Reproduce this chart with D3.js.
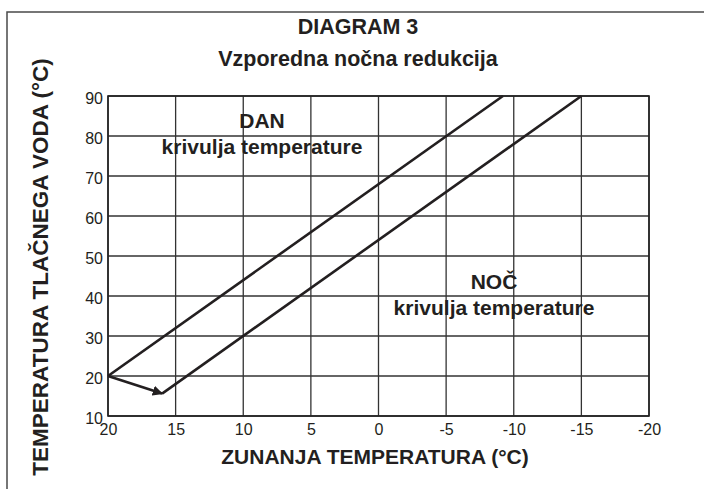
<!DOCTYPE html>
<html>
<head>
<meta charset="utf-8">
<script src="https://cdn.jsdelivr.net/npm/d3@7"></script>
<style>
  html, body { margin: 0; padding: 0; background: #fff; }
  svg { display: block; }
  text { font-family: "Liberation Sans", Arial, Helvetica, sans-serif; fill: #231f20; }
</style>
</head>
<body>
<svg id="chart" width="704" height="489"></svg>
<script>
// Outdoor temperature ticks (°C), reversed axis: warm on the left
const xTicks = [20, 15, 10, 5, 0, -5, -10, -15, -20];
// Flow water temperature ticks (°C)
const yTicks = [10, 20, 30, 40, 50, 60, 70, 80, 90];

// Day heating curve: outdoor temp -> flow temp
const dayOutdoor = [20, -9.2];
const dayFlow = [20, 90];

// Night heating curve, parallel to the day curve
const nightOutdoor = [16, -15];
const nightFlow = [15.6, 90];

// Reduction step from the day curve start to the night curve start
const shiftOutdoor = [20, 16];
const shiftFlow = [20, 15.6];

const ink = "#231f20";
const svg = d3.select("#chart");

// outer frame (runs off the right and bottom edge)
svg.append("rect")
  .attr("x", 7).attr("y", 12).attr("width", 760).attr("height", 520)
  .attr("fill", "none").attr("stroke", "#4a4a4a").attr("stroke-width", 1.5);

const x = d3.scaleLinear().domain([20, -20]).range([108, 649]);
const y = d3.scaleLinear().domain([10, 90]).range([416, 96]);

// grid
const g = svg.append("g");
g.selectAll("line.vx").data(xTicks).join("line")
  .attr("x1", d => x(d)).attr("x2", d => x(d))
  .attr("y1", y(10)).attr("y2", y(90))
  .attr("stroke", "#333").attr("stroke-width", 1.3);
g.selectAll("line.hy").data(yTicks).join("line")
  .attr("x1", x(20)).attr("x2", x(-20))
  .attr("y1", d => y(d)).attr("y2", d => y(d))
  .attr("stroke", "#333").attr("stroke-width", 1.3);
g.append("rect")
  .attr("x", x(20)).attr("y", y(90))
  .attr("width", x(-20) - x(20)).attr("height", y(10) - y(90))
  .attr("fill", "none").attr("stroke", "#222").attr("stroke-width", 1.6);

// axes (labels only, gridlines drawn above); plain hyphen for negatives
const xAxis = d3.axisBottom(x).tickValues(xTicks).tickSize(0).tickPadding(8).tickFormat(d => String(d));
const yAxis = d3.axisLeft(y).tickValues(yTicks).tickSize(0).tickPadding(5).tickFormat(d => String(d));
const gx = svg.append("g").attr("transform", `translate(0,${y(10)})`).call(xAxis);
const gy = svg.append("g").attr("transform", `translate(${x(20)},0)`).call(yAxis);
[gx, gy].forEach(a => {
  a.select(".domain").remove();
  a.selectAll("text").attr("font-size", 16).attr("fill", ink)
    .attr("font-family", "'Liberation Sans', Arial, sans-serif");
});
gy.selectAll("text").attr("dy", "0.45em");

// arrow marker
svg.append("defs").append("marker")
  .attr("id", "arrow").attr("viewBox", "0 0 10 10")
  .attr("refX", 9).attr("refY", 5)
  .attr("markerWidth", 4).attr("markerHeight", 4)
  .attr("markerUnits", "strokeWidth")
  .attr("orient", "auto")
  .append("path").attr("d", "M0,0 L10,5 L0,10 z").attr("fill", ink);

const line = d3.line().x(d => x(d[0])).y(d => y(d[1]));

svg.append("path")
  .datum(d3.zip(dayOutdoor, dayFlow))
  .attr("d", line).attr("fill", "none")
  .attr("stroke", ink).attr("stroke-width", 2.6);

svg.append("path")
  .datum(d3.zip(nightOutdoor, nightFlow))
  .attr("d", line).attr("fill", "none")
  .attr("stroke", ink).attr("stroke-width", 2.6);

svg.append("path")
  .datum(d3.zip(shiftOutdoor, shiftFlow))
  .attr("d", line).attr("fill", "none")
  .attr("stroke", ink).attr("stroke-width", 2.6)
  .attr("marker-end", "url(#arrow)");

// titles
svg.append("text").attr("x", 358).attr("y", 34)
  .attr("text-anchor", "middle").attr("font-size", 21.5).attr("font-weight", "bold")
  .text("DIAGRAM 3");
svg.append("text").attr("x", 358).attr("y", 66)
  .attr("text-anchor", "middle").attr("font-size", 21.5).attr("font-weight", "bold")
  .text("Vzporedna nočna redukcija");

// axis titles
svg.append("text").attr("x", 375).attr("y", 464)
  .attr("text-anchor", "middle").attr("font-size", 21).attr("font-weight", "bold")
  .text("ZUNANJA TEMPERATURA (°C)");
svg.append("text")
  .attr("transform", "translate(48,267) rotate(-90)")
  .attr("text-anchor", "middle").attr("font-size", 22.5).attr("font-weight", "bold")
  .text("TEMPERATURA TLAČNEGA VODA (°C)");

// curve annotations
const notes = [
  { cx: 262, lines: ["DAN", "krivulja temperature"], base: 128 },
  { cx: 494, lines: ["NOČ", "krivulja temperature"], base: 289 }
];
notes.forEach(n => {
  n.lines.forEach((t, i) => {
    svg.append("text").attr("x", n.cx).attr("y", n.base + i * 26)
      .attr("text-anchor", "middle").attr("font-size", 21).attr("font-weight", "bold")
      .text(t);
  });
});
</script>
</body>
</html>
